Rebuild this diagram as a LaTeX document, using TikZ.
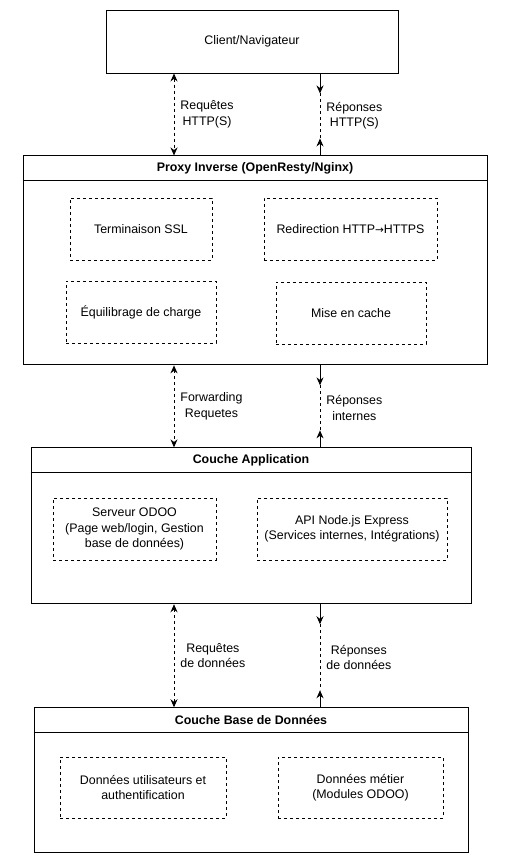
\documentclass[tikz,border=0pt]{standalone}
\usepackage{fontspec}
\setmainfont{Liberation Sans}
\usetikzlibrary{positioning, calc, arrows.meta}

\begin{document}
\begin{tikzpicture}[x=1pt, y=-1pt, font=\fontsize{12.4}{15.5}\selectfont, line width=0.9pt,
    layer/.style={draw, rectangle, inner sep=0pt},
    head/.style={font=\fontsize{12.4}{15.5}\selectfont\bfseries, inner sep=0pt, minimum height=24pt, anchor=north},
    part/.style={draw, dash pattern=on 3pt off 3pt, align=center, inner sep=0pt},
    req/.style={dash pattern=on 3pt off 3pt, {Stealth[length=8pt,width=7pt]}-{Stealth[length=8pt,width=7pt]}},
    tip/.style={-{Stealth[length=8pt,width=7pt]}},
    resp/.style={dash pattern=on 3pt off 3pt},
    lbl/.style={align=center, inner sep=0pt, right=6pt}]
    \useasboundingbox (0,0) rectangle (506,866);

    % layers
    \node[layer, minimum width=292pt, minimum height=63pt] (client) at (252,41.5) {Client/Navigateur};
    \node[layer, minimum width=464pt, minimum height=209pt] (proxy) [below=82pt of client, xshift=3pt] {};
    \node[layer, minimum width=440pt, minimum height=156pt] (app) [below=82pt of proxy, xshift=-4pt] {};
    \node[layer, minimum width=434pt, minimum height=145pt] (db) [below=103pt of app] {};

    \node[head] (proxy_h) at (proxy.north) {Proxy Inverse (OpenResty/Nginx)};
    \node[head] (app_h) at (app.north) {Couche Application};
    \node[head] (db_h) at (db.north) {Couche Base de Données};
    \draw (proxy.west |- proxy_h.south) -- (proxy.east |- proxy_h.south);
    \draw (app.west |- app_h.south) -- (app.east |- app_h.south);
    \draw (db.west |- db_h.south) -- (db.east |- db_h.south);

    % components
    \node[part, minimum width=142pt, minimum height=62pt] (p_ssl) at (141,229) {Terminaison SSL};
    \node[part, minimum width=173pt, minimum height=62pt] (p_redir) at (350.5,229) {Redirection HTTP{\fontspec{DejaVu Sans}\fontsize{10.5}{12}\selectfont→}HTTPS};
    \node[part, minimum width=150pt, minimum height=62pt] (p_lb) at (141,312) {Équilibrage de charge};
    \node[part, minimum width=150pt, minimum height=62pt] (p_cache) at (351,313) {Mise en cache};
    \node[part, minimum width=163pt, minimum height=62pt] (a_odoo) at (134.5,529) {Serveur ODOO\\(Page web/login, Gestion\\base de données)};
    \node[part, minimum width=190pt, minimum height=62pt] (a_api) at (352,529) {API Node.js Express\\(Services internes, Intégrations)};
    \node[part, minimum width=166pt, minimum height=61pt] (d_users) at (143,787.5) {Données utilisateurs et\\authentification};
    \node[part, minimum width=165pt, minimum height=61pt] (d_biz) at (360.5,787.5) {Données métier\\(Modules ODOO)};

    % flows
    \coordinate (xl) at (174,0);
    \coordinate (xr) at (320,0);

    \draw[req] (client.south -| xl) -- node[lbl] {Requêtes\\HTTP(S)} (proxy.north -| xl);
    \coordinate (r_1) at ($(client.south -| xr)+(0,20)$);
    \coordinate (r_2) at ($(proxy.north -| xr)+(0,-17)$);
    \draw[tip] (client.south -| xr) -- (r_1);
    \draw[resp] (r_1) -- node[lbl] {Réponses\\HTTP(S)} (r_2);
    \draw[tip] (proxy.north -| xr) -- (r_2);

    \draw[req] (proxy.south -| xl) -- node[lbl] {Forwarding\\Requetes} (app.north -| xl);
    \coordinate (r_3) at ($(proxy.south -| xr)+(0,20)$);
    \coordinate (r_4) at ($(app.north -| xr)+(0,-17)$);
    \draw[tip] (proxy.south -| xr) -- (r_3);
    \draw[resp] (r_3) -- node[lbl] {Réponses\\internes} (r_4);
    \draw[tip] (app.north -| xr) -- (r_4);

    \draw[req] (app.south -| xl) -- node[lbl] {Requêtes\\de données} (db.north -| xl);
    \coordinate (r_5) at ($(app.south -| xr)+(0,20)$);
    \coordinate (r_6) at ($(db.north -| xr)+(0,-17)$);
    \draw[tip] (app.south -| xr) -- (r_5);
    \draw[resp] (r_5) -- node[lbl] {Réponses\\de données} (r_6);
    \draw[tip] (db.north -| xr) -- (r_6);
\end{tikzpicture}
\end{document}
